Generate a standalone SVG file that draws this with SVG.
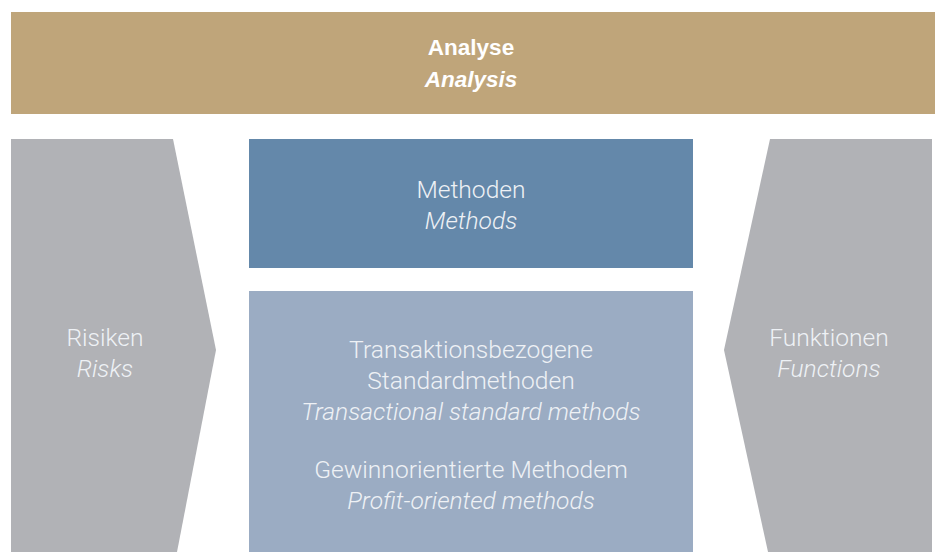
<svg xmlns="http://www.w3.org/2000/svg" width="935" height="552" viewBox="0 0 935 552">
<style>
.t{font-family:Roboto,"Liberation Sans",sans-serif;font-weight:300;font-size:24.6px;fill:#eef1f5;text-anchor:middle}
.i{font-style:italic}
.b{font-family:"Liberation Sans",Arial,sans-serif;font-weight:bold;font-size:22.5px;fill:#ffffff;text-anchor:middle}
</style>
<rect width="935" height="552" fill="#ffffff"/>
<g id="analyse">
<rect x="11" y="12" width="924" height="102" fill="#bfa57a"/>
<text class="b" x="471" y="55">Analyse</text>
<text class="b i" x="471" y="87">Analysis</text>
</g>
<g id="risiken">
<polygon points="11,139 173,139 216,350 177,552 11,552" fill="#b1b2b6"/>
<text class="t" x="105" y="346">Risiken</text>
<text class="t i" x="105" y="377">Risks</text>
</g>
<g id="funktionen">
<polygon points="770,139 932,139 932,552 768,552 724,350" fill="#b1b2b6"/>
<text class="t" x="829" y="346">Funktionen</text>
<text class="t i" x="829" y="377">Functions</text>
</g>
<g id="methoden">
<rect x="249" y="139" width="444" height="129" fill="#6488aa"/>
<text class="t" x="471" y="198">Methoden</text>
<text class="t i" x="471" y="229">Methods</text>
</g>
<g id="standard">
<rect x="249" y="291" width="444" height="261" fill="#9bacc3"/>
<text class="t" x="471" y="358">Transaktionsbezogene</text>
<text class="t" x="471" y="389">Standardmethoden</text>
<text class="t i" x="471" y="420">Transactional standard methods</text>
<text class="t" x="471" y="478">Gewinnorientierte Methodem</text>
<text class="t i" x="471" y="509">Profit-oriented methods</text>
</g>
<g id="connectors"></g>
</svg>
